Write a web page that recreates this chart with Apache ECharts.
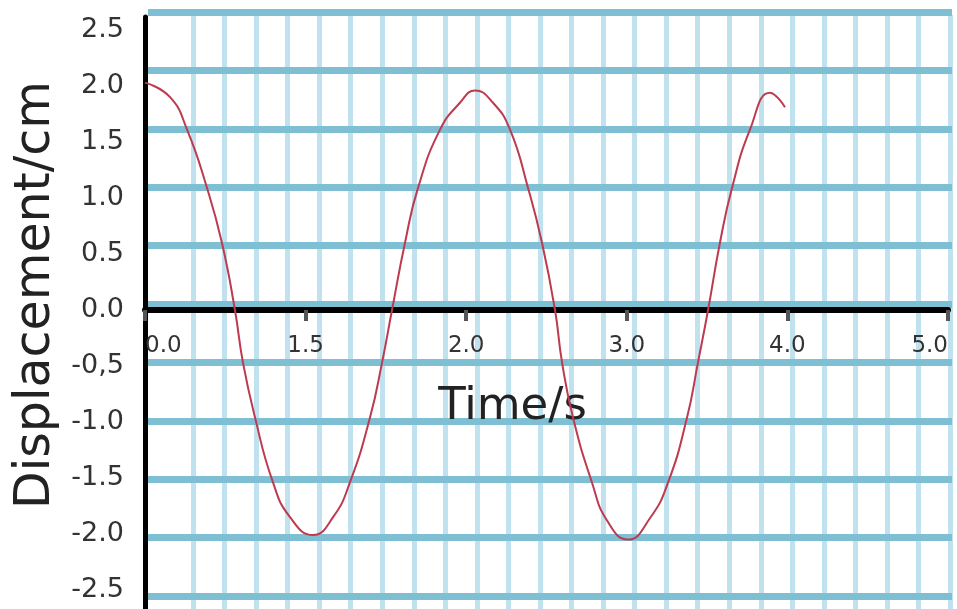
<!DOCTYPE html>
<html>
<head>
<meta charset="utf-8">
<script src="https://cdn.jsdelivr.net/npm/echarts@6/dist/echarts.min.js"></script>
<style>
  html, body { margin: 0; padding: 0; background: #fff; }
  #chart { width: 957px; height: 609px; }
</style>
</head>
<body>
<div id="chart"></div>
<script>
// values
var timeValues = [0.000, 0.156, 0.262, 0.386, 0.479, 0.560, 0.610, 0.685, 0.797, 0.903, 1.046, 1.171, 1.276, 1.401, 1.476, 1.538, 1.619, 1.700, 1.837, 1.961, 2.055, 2.167, 2.273, 2.385, 2.472, 2.553, 2.597, 2.665, 2.783, 2.877, 3.007, 3.144, 3.257, 3.375, 3.443, 3.506, 3.580, 3.655, 3.767, 3.892, 3.985];
var displacement = [2.03, 1.90, 1.61, 1.09, 0.60, 0.00, -0.47, -0.96, -1.54, -1.85, -2.01, -1.85, -1.54, -0.96, -0.47, 0.00, 0.60, 1.09, 1.61, 1.85, 1.96, 1.85, 1.61, 1.09, 0.60, 0.00, -0.47, -0.96, -1.54, -1.88, -2.05, -1.86, -1.54, -0.96, -0.47, 0.00, 0.60, 1.09, 1.61, 1.94, 1.81];
var xTickLabels = ['0.0', '1.5', '2.0', '3.0', '4.0', '5.0'];
var yTickValues = [-2.5, -2.0, -1.5, -1.0, -0.5, 0.0, 0.5, 1.0, 1.5, 2.0, 2.5];

var points = timeValues.map(function (t, i) { return [t, displacement[i]]; });

var myChart = echarts.init(document.getElementById('chart'));
var font = 'DejaVu Sans';

var option = {
  animation: false,
  backgroundColor: '#ffffff',
  grid: [
    { left: 145, right: 9, top: 17, bottom: 0, outerBoundsMode: 'none' },
    { left: 148, right: 5, top: 12, bottom: 13, outerBoundsMode: 'none' },
    { left: 161.5, right: 7, top: 15, bottom: 0, outerBoundsMode: 'none' }
  ],
  xAxis: [
    {
      type: 'value', gridIndex: 0, min: 0, max: 5, interval: 1, z: 3,
      position: 'bottom', offset: -299,
      axisLine: { onZero: false, lineStyle: { color: '#000', width: 6 } },
      axisTick: { show: true, length: 11, lineStyle: { color: '#555', width: 4 } },
      axisLabel: {
        margin: 25, fontSize: 23, color: '#333', fontFamily: font,
        alignMinLabel: 'left', alignMaxLabel: 'right',
        formatter: function (v) { return xTickLabels[Math.round(v)]; }
      },
      splitLine: { show: false },
      name: 'Time/s', nameLocation: 'middle', nameGap: 75,
      nameTextStyle: { fontSize: 45, color: '#222', fontFamily: font, padding: [0, 68, 0, 0] }
    },
    { type: 'value', gridIndex: 1, min: 0, max: 1, show: false },
    {
      type: 'value', gridIndex: 2, min: 0, max: 25, interval: 1, z: 0,
      axisLine: { show: false }, axisTick: { show: false }, axisLabel: { show: false },
      splitLine: { show: true, showMinLine: false, lineStyle: { color: '#c0e2ee', width: 5 } }
    }
  ],
  yAxis: [
    {
      type: 'value', gridIndex: 0, min: -2.67, max: 2.616, z: 3,
      axisLine: { show: true, onZero: false, lineStyle: { color: '#000', width: 5 } },
      axisTick: { show: false },
      axisLabel: {
        customValues: yTickValues, margin: 21, fontSize: 27, color: '#333', fontFamily: font,
        formatter: function (v) { return v === -0.5 ? '-0,5' : v.toFixed(1); }
      },
      splitLine: { show: false },
      name: 'Displacement/cm', nameLocation: 'middle', nameGap: 82, nameRotate: 90,
      nameTextStyle: { fontSize: 49, color: '#222', fontFamily: font, padding: [0, 0, 0, 36] }
    },
    {
      type: 'value', gridIndex: 1, min: 0, max: 10, interval: 1, z: 1,
      axisLine: { show: false }, axisTick: { show: false }, axisLabel: { show: false },
      splitLine: { show: true, lineStyle: { color: '#7fbfd4', width: 7 } }
    },
    { type: 'value', gridIndex: 2, min: 0, max: 1, show: false }
  ],
  series: [{
    type: 'line',
    xAxisIndex: 0,
    yAxisIndex: 0,
    data: points,
    smooth: 0.5,
    symbol: 'none',
    z: 5,
    lineStyle: { color: '#bd3a4f', width: 2 }
  }]
};
myChart.setOption(option);
</script>
</body>
</html>
